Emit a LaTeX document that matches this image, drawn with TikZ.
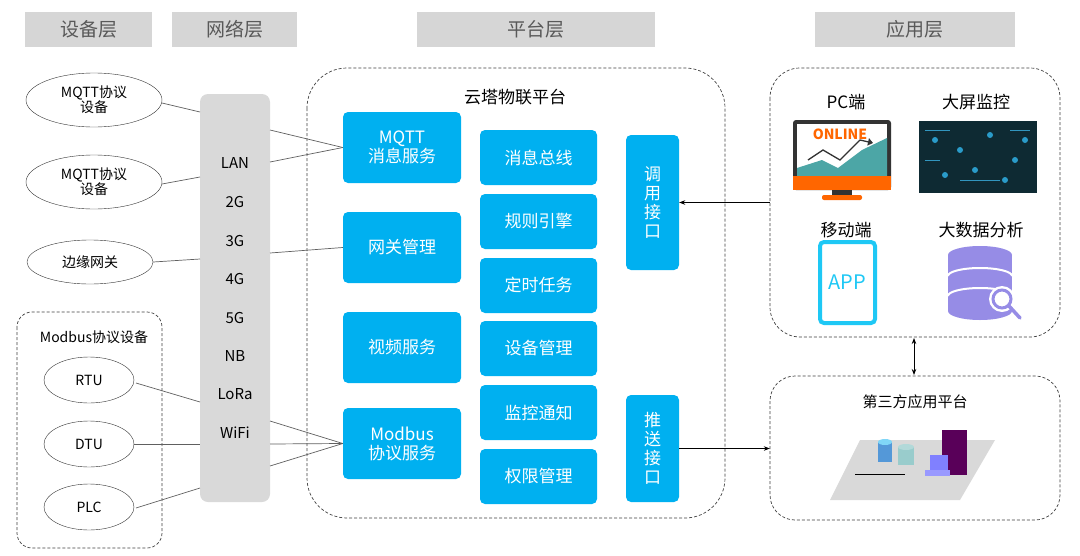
\documentclass[tikz,border=0pt]{standalone}
\usepackage{fontspec}
\setmainfont{Noto Sans CJK SC}
\usetikzlibrary{arrows.meta,shapes.geometric}
\definecolor{hdr}{HTML}{D6D6D6}
\definecolor{hdrt}{HTML}{595959}
\definecolor{blu}{HTML}{00B0F0}
\definecolor{barg}{HTML}{D9D9D9}
\definecolor{ln}{HTML}{606060}
\definecolor{scr}{HTML}{0E2A33}
\definecolor{phc}{HTML}{1EC8F5}
\definecolor{dbp}{HTML}{968CE6}
\begin{document}
\begin{tikzpicture}[x=1pt,y=-1pt,
 hdr/.style={fill=hdr,text=hdrt,font=\fontsize{19}{19}\selectfont,inner sep=0},
 dev/.style={draw=black!80,ellipse,font=\fontsize{14}{15}\selectfont,align=center,inner sep=0},
 bb/.style={fill=blu,rounded corners=5pt,text=white,font=\fontsize{17}{19}\selectfont,align=center,inner sep=0},
 dsh/.style={draw=black!75,dash pattern=on 3pt off 2pt,line width=0.7pt},
 dbox/.style={dsh,rounded corners=30pt},
 con/.style={draw=ln,line width=0.7pt},
 net/.style={font=\fontsize{15}{15}\selectfont},
 lab/.style={font=\fontsize{17}{17}\selectfont}]
\useasboundingbox (0,0) rectangle (1080,555);
\fill[white] (0,0) rectangle (1080,555);
% headers
\node[hdr,minimum width=127,minimum height=35] (h1) at (88.5,29.5) {设备层};
\node[hdr,minimum width=125,minimum height=35] (h2) at (234.5,29.5) {网络层};
\node[hdr,minimum width=238,minimum height=35] (h3) at (536,29.5) {平台层};
\node[hdr,minimum width=200,minimum height=35] (h4) at (915,29.5) {应用层};
% devices
\node[dev,minimum width=136,minimum height=54] (m1) at (94,100) {MQTT协议\\设备};
\node[dev,minimum width=136,minimum height=54] (m2) at (94,182) {MQTT协议\\设备};
\node[dev,minimum width=126,minimum height=44] (eg) at (90,262) {边缘网关};
\draw[dsh,rounded corners=15pt] (17,312) rectangle (162,548);
\node[font=\fontsize{14}{14}\selectfont] (mt) at (94,337) {Modbus协议设备};
\node[dev,minimum width=90,minimum height=46] (rtu) at (89,380) {RTU};
\node[dev,minimum width=90,minimum height=46] (dtu) at (89,444) {DTU};
\node[dev,minimum width=90,minimum height=46] (plc) at (89,507) {PLC};
% bar
\node[fill=barg,rounded corners=8pt,minimum width=70,minimum height=408,inner sep=0] (bar) at (235,298) {};
\foreach \t/\y in {LAN/163,2G/202,3G/241,4G/279,5G/318,NB/356,LoRa/394,WiFi/433}
  \node[net] at (235,\y) {\t};
% platform
\draw[dbox,rounded corners=40pt] (307,68) rectangle (725,518);
\node[lab] (pt) at (515,97) {云塔物联平台};
\node[bb,minimum width=118,minimum height=71] (mq) at (402,147.5) {MQTT\\消息服务};
\node[bb,minimum width=118,minimum height=71] (gw) at (402,247.5) {网关管理};
\node[bb,minimum width=118,minimum height=71] (vs) at (402,347.5) {视频服务};
\node[bb,minimum width=118,minimum height=71] (mb) at (402,443.5) {Modbus\\协议服务};
\foreach \n/\t/\y in {c1/消息总线/157.5,c2/规则引擎/221.5,c3/定时任务/285.5,c4/设备管理/348.5,c5/监控通知/412.5,c6/权限管理/476.5}
  \node[bb,minimum width=117,minimum height=55] (\n) at (538.5,\y) {\t};
\node[bb,minimum width=53,minimum height=135] (call) at (652.5,202.5) {调\\用\\接\\口};
\node[bb,minimum width=53,minimum height=107] (push) at (652.5,448.5) {推\\送\\接\\口};
% connectors left
\coordinate (bl1) at (200,112); \coordinate (bl2) at (200,177); \coordinate (bl3) at (200,259);
\coordinate (bl4) at (200,402); \coordinate (bl5) at (200,444); \coordinate (bl6) at (200,488);
\draw[con] (162,103) -- (bl1);
\draw[con] (162,184) -- (bl2);
\draw[con] (eg.east) -- (bl3);
\draw[con] (136,383) -- (bl4);
\draw[con] (dtu.east) -- (bl5);
\draw[con] (136,508) -- (bl6);
\coordinate (br1) at (270,130); \coordinate (br2) at (270,162); \coordinate (br3) at (270,253);
\coordinate (br4) at (270,421); \coordinate (br5) at (270,444); \coordinate (br6) at (270,466);
\draw[con] (br1) -- (mq.west); \draw[con] (br2) -- (mq.west);
\draw[con] (br3) -- (gw.west);
\draw[con] (br4) -- (mb.west); \draw[con] (br5) -- (mb.west); \draw[con] (br6) -- (mb.west);
% app boxes
\draw[dbox] (770,68) rectangle (1060,337);
\node[draw=none,minimum width=290,minimum height=269,inner sep=0] (app) at (915,202.5) {};
\draw[dbox,rounded corners=25pt] (770,376) rectangle (1060,520);
\node[draw=none,minimum width=290,minimum height=144,inner sep=0] (tp) at (915,448) {};
\draw[{Stealth[length=6pt]}-{Stealth[length=6pt]},line width=0.8pt] (914,338) -- (914,375);
\draw[-{Stealth[length=6pt]},line width=0.7pt] (app.west |- call) -- (call.east);
\draw[-{Stealth[length=6pt]},line width=0.7pt] (push.east) -- (tp.west |- push);
% labels
\node[lab] (l1) at (846,102) {PC端};
\node[lab] (l2) at (976,102) {大屏监控};
\node[lab] (l3) at (846,230) {移动端};
\node[lab] (l4) at (981,230) {大数据分析};
\node[font=\fontsize{15}{15}\selectfont] (l5) at (915,402) {第三方应用平台};
% PC icon
\fill[black!80,rounded corners=3pt] (793,120) rectangle (891,190);
\fill[white] (797,124) rectangle (887,176);
\fill[teal!70] (797,176) -- (797,168) -- (822,160) -- (838,168) -- (862,150) -- (887,138) -- (887,176) -- cycle;
\draw[black!80,line width=1.3pt,-{Triangle[length=5pt]}] (808,160) -- (823,150) -- (840,160) -- (860,140) -- (873,143);
\node[text=orange!80!red,font=\bfseries\fontsize{14}{14}\selectfont] at (840,134) {ONLINE};
\fill[orange!80!red] (793,176) rectangle (891,190);
\fill[black!80] (832,190) rectangle (852,196);
\fill[orange!80!red,rounded corners=2pt] (822,195) rectangle (862,200);
% big screen
\fill[scr] (919,121) rectangle (1037,193);
\foreach \x/\y in {935/140,960/150,990/135,1015/160,945/175,975/170,1005/180,1025/140}
  \fill[cyan!60!teal] (\x,\y) circle (3);
\draw[cyan!50!teal,line width=0.5pt] (925,130)--(950,130) (925,160)--(940,160) (1010,130)--(1030,130) (960,180)--(1000,180);
% phone
\draw[phc,line width=4pt,rounded corners=4pt] (820,242) rectangle (875,323);
\node[text=phc,font=\fontsize{20}{20}\selectfont] at (847.5,282) {APP};
% database
\fill[dbp] (948,255) rectangle (1012,311);
\fill[dbp] (980,255) ellipse (32 and 9);
\fill[dbp] (980,311) ellipse (32 and 9);
\draw[white,line width=2pt] (948,276) arc[start angle=180,end angle=360,x radius=32,y radius=8];
\draw[white,line width=2pt] (948,296) arc[start angle=180,end angle=360,x radius=32,y radius=8];
\fill[white] (1002,299) circle (13);
\draw[dbp,line width=3pt] (1002,299) circle (9);
\draw[dbp,line width=3.5pt,line cap=round] (1009,306) -- (1020,318);
% third-party scene
\fill[black!15] (860,440) -- (995,440) -- (960,500) -- (830,500) -- cycle;
\fill[cyan!60!blue!70] (878,442) rectangle (892,462); \fill[cyan!50] (885,442) ellipse (7 and 3);
\fill[teal!40] (898,447) rectangle (914,465); \fill[teal!30] (906,447) ellipse (8 and 3);
\draw[black,line width=1pt] (855,474) -- (905,474);
\fill[violet!70!black] (942,430) rectangle (967,475);
\fill[blue!50] (930,455) rectangle (948,470);
\fill[blue!40] (925,470) rectangle (950,476);
\end{tikzpicture}
\end{document}
